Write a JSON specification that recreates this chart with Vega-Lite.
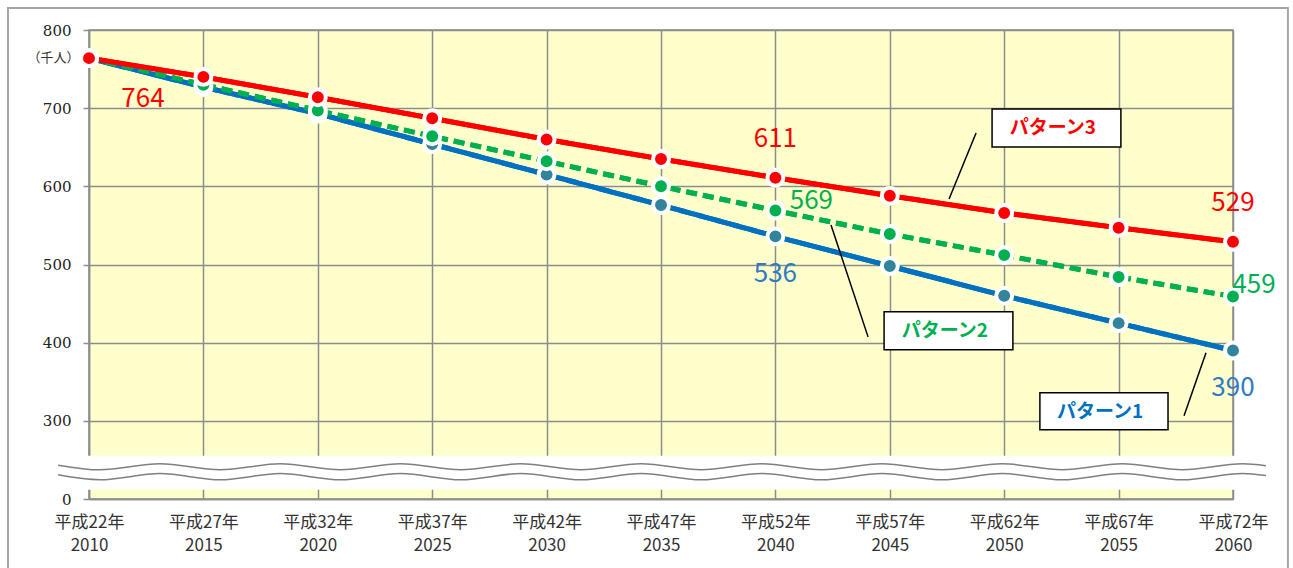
{
  "$schema": "https://vega.github.io/schema/vega-lite/v6.json",
  "width": 1144,
  "height": 469,
  "autosize": "none",
  "padding": {"left": 89, "top": 30, "right": 60, "bottom": 69},
  "background": "white",
  "config": {"view": {"fill": "#FFFFCC", "stroke": "#8C8C8C", "strokeWidth": 1.5}},
  "datasets": {
    "series": [
      {"series": "パターン1", "year": 2010, "value": 764},
      {"series": "パターン1", "year": 2015, "value": 727},
      {"series": "パターン1", "year": 2020, "value": 693},
      {"series": "パターン1", "year": 2025, "value": 654},
      {"series": "パターン1", "year": 2030, "value": 615},
      {"series": "パターン1", "year": 2035, "value": 576},
      {"series": "パターン1", "year": 2040, "value": 536},
      {"series": "パターン1", "year": 2045, "value": 498},
      {"series": "パターン1", "year": 2050, "value": 460},
      {"series": "パターン1", "year": 2055, "value": 425},
      {"series": "パターン1", "year": 2060, "value": 390},
      {"series": "パターン2", "year": 2010, "value": 764},
      {"series": "パターン2", "year": 2015, "value": 730},
      {"series": "パターン2", "year": 2020, "value": 697},
      {"series": "パターン2", "year": 2025, "value": 664},
      {"series": "パターン2", "year": 2030, "value": 632},
      {"series": "パターン2", "year": 2035, "value": 600},
      {"series": "パターン2", "year": 2040, "value": 569},
      {"series": "パターン2", "year": 2045, "value": 539},
      {"series": "パターン2", "year": 2050, "value": 512},
      {"series": "パターン2", "year": 2055, "value": 484},
      {"series": "パターン2", "year": 2060, "value": 459},
      {"series": "パターン3", "year": 2010, "value": 764},
      {"series": "パターン3", "year": 2015, "value": 740},
      {"series": "パターン3", "year": 2020, "value": 714},
      {"series": "パターン3", "year": 2025, "value": 687},
      {"series": "パターン3", "year": 2030, "value": 660},
      {"series": "パターン3", "year": 2035, "value": 635},
      {"series": "パターン3", "year": 2040, "value": 611},
      {"series": "パターン3", "year": 2045, "value": 588},
      {"series": "パターン3", "year": 2050, "value": 566},
      {"series": "パターン3", "year": 2055, "value": 547},
      {"series": "パターン3", "year": 2060, "value": 529}
    ],
    "boxes": [
      {"series": "パターン3", "x1": 2049.47, "x2": 2055.10, "y1": 699.0, "y2": 650.4, "tx": 2052.13, "ty": 674.7},
      {"series": "パターン2", "x1": 2044.75, "x2": 2050.38, "y1": 439.4, "y2": 390.8, "tx": 2047.41, "ty": 415.1},
      {"series": "パターン1", "x1": 2051.56, "x2": 2057.16, "y1": 335.8, "y2": 288.5, "tx": 2054.19, "ty": 311.5}
    ],
    "leaders": [
      {"x1": 2048.77, "y1": 668.3, "x2": 2047.59, "y2": 583.9},
      {"x1": 2042.43, "y1": 550.6, "x2": 2044.05, "y2": 407.4},
      {"x1": 2058.82, "y1": 387.0, "x2": 2057.86, "y2": 306.4}
    ],
    "frame": [
      {"x1": 2006.46, "x2": 2062.40, "y1": 828.1, "y2": 90}
    ],
    "band": [
      {"x1": 2008.65, "x2": 2061.44, "y1": 255.2, "y2": 211.8}
    ],
    "wave": [
      {"line": "u", "x": 2008.65, "y": 243.3},
      {"line": "u", "x": 2010.47, "y": 237.3},
      {"line": "u", "x": 2013.10, "y": 245.0},
      {"line": "u", "x": 2015.73, "y": 237.3},
      {"line": "u", "x": 2018.36, "y": 245.0},
      {"line": "u", "x": 2020.99, "y": 237.3},
      {"line": "u", "x": 2023.62, "y": 245.0},
      {"line": "u", "x": 2026.25, "y": 237.3},
      {"line": "u", "x": 2028.87, "y": 245.0},
      {"line": "u", "x": 2031.50, "y": 237.3},
      {"line": "u", "x": 2034.13, "y": 245.0},
      {"line": "u", "x": 2036.76, "y": 237.3},
      {"line": "u", "x": 2039.39, "y": 245.0},
      {"line": "u", "x": 2042.02, "y": 237.3},
      {"line": "u", "x": 2044.65, "y": 245.0},
      {"line": "u", "x": 2047.28, "y": 237.3},
      {"line": "u", "x": 2049.91, "y": 245.0},
      {"line": "u", "x": 2052.54, "y": 237.3},
      {"line": "u", "x": 2055.16, "y": 245.0},
      {"line": "u", "x": 2057.79, "y": 237.3},
      {"line": "u", "x": 2060.42, "y": 245.0},
      {"line": "u", "x": 2061.44, "y": 242.5},
      {"line": "l", "x": 2008.65, "y": 230.9},
      {"line": "l", "x": 2010.47, "y": 224.6},
      {"line": "l", "x": 2013.10, "y": 232.6},
      {"line": "l", "x": 2015.73, "y": 224.6},
      {"line": "l", "x": 2018.36, "y": 232.6},
      {"line": "l", "x": 2020.99, "y": 224.6},
      {"line": "l", "x": 2023.62, "y": 232.6},
      {"line": "l", "x": 2026.25, "y": 224.6},
      {"line": "l", "x": 2028.87, "y": 232.6},
      {"line": "l", "x": 2031.50, "y": 224.6},
      {"line": "l", "x": 2034.13, "y": 232.6},
      {"line": "l", "x": 2036.76, "y": 224.6},
      {"line": "l", "x": 2039.39, "y": 232.6},
      {"line": "l", "x": 2042.02, "y": 224.6},
      {"line": "l", "x": 2044.65, "y": 232.6},
      {"line": "l", "x": 2047.28, "y": 224.6},
      {"line": "l", "x": 2049.91, "y": 232.6},
      {"line": "l", "x": 2052.54, "y": 224.6},
      {"line": "l", "x": 2055.16, "y": 232.6},
      {"line": "l", "x": 2057.79, "y": 224.6},
      {"line": "l", "x": 2060.42, "y": 232.6},
      {"line": "l", "x": 2061.44, "y": 230.0}
    ]
  },
  "layer": [
    {
      "data": {"name": "series"},
      "mark": {"type": "line", "strokeWidth": 5},
      "encoding": {
        "x": {
          "field": "year", "type": "quantitative",
          "scale": {"domain": [2010, 2060], "nice": false, "zero": false},
          "axis": {
            "values": [2010, 2015, 2020, 2025, 2030, 2035, 2040, 2045, 2050, 2055, 2060],
            "labelExpr": "['平成' + (datum.value - 1988) + '年', '' + datum.value]",
            "title": null,
            "grid": true, "gridColor": "#8C8C8C", "gridWidth": 1.5,
            "ticks": false,
            "domainColor": "#8C8C8C", "domainWidth": 1.5,
            "labelFont": "Noto Sans CJK JP", "labelFontSize": 17, "labelColor": "#333333",
            "labelLineHeight": 23, "labelPadding": 15, "labelFlush": false, "labelOverlap": false
          }
        },
        "y": {
          "field": "value", "type": "quantitative",
          "scale": {"domain": [200, 800], "nice": false, "zero": false},
          "axis": {
            "values": [200, 300, 400, 500, 600, 700, 800],
            "labelExpr": "datum.value == 200 ? '0' : '' + datum.value",
            "title": "（千人）",
            "titleAngle": 0, "titleX": -36, "titleY": 27,
            "titleAlign": "center", "titleBaseline": "middle",
            "titleFont": "Noto Sans CJK JP", "titleFontSize": 13, "titleFontWeight": "normal", "titleColor": "#333333",
            "grid": true, "gridColor": "#8C8C8C", "gridWidth": 1.5,
            "tickSize": 6, "tickColor": "#8C8C8C", "tickWidth": 1.5,
            "domainColor": "#8C8C8C", "domainWidth": 1.5,
            "labelPadding": 12, "labelFont": "DejaVu Serif", "labelFontSize": 15, "labelColor": "#222222"
          }
        },
        "stroke": {
          "field": "series", "type": "nominal",
          "scale": {"domain": ["パターン1", "パターン2", "パターン3"], "range": ["#0070C0", "#00B050", "#FF0000"]},
          "legend": null
        },
        "strokeDash": {
          "field": "series", "type": "nominal",
          "scale": {"domain": ["パターン1", "パターン2", "パターン3"], "range": [[1, 0], [11, 6], [1, 0]]},
          "legend": null
        }
      }
    },
    {
      "data": {"name": "frame"},
      "mark": {"type": "rect", "fillOpacity": 0, "stroke": "#A6A6A6", "strokeWidth": 2},
      "encoding": {
        "x": {"field": "x1", "type": "quantitative"},
        "x2": {"field": "x2"},
        "y": {"field": "y1", "type": "quantitative"},
        "y2": {"field": "y2"}
      }
    },
    {
      "data": {"name": "band"},
      "mark": {"type": "rect", "fill": "white", "strokeWidth": 0},
      "encoding": {
        "x": {"field": "x1", "type": "quantitative"},
        "x2": {"field": "x2"},
        "y": {"field": "y1", "type": "quantitative"},
        "y2": {"field": "y2"}
      }
    },
    {
      "data": {"name": "wave"},
      "mark": {"type": "line", "interpolate": "monotone", "color": "#7F7F7F", "strokeWidth": 1.5},
      "encoding": {
        "x": {"field": "x", "type": "quantitative"},
        "y": {"field": "y", "type": "quantitative"},
        "detail": {"field": "line", "type": "nominal"}
      }
    },
    {
      "data": {"name": "series"},
      "mark": {"type": "line", "strokeWidth": 5},
      "encoding": {
        "x": {"field": "year", "type": "quantitative"},
        "y": {"field": "value", "type": "quantitative"},
        "stroke": {"field": "series", "type": "nominal", "legend": null},
        "strokeDash": {"field": "series", "type": "nominal", "legend": null}
      }
    },
    {
      "data": {"name": "series"},
      "mark": {"type": "circle", "size": 254, "stroke": "white", "strokeWidth": 4, "opacity": 1},
      "encoding": {
        "x": {"field": "year", "type": "quantitative"},
        "y": {"field": "value", "type": "quantitative"},
        "fill": {
          "field": "series", "type": "nominal",
          "scale": {"domain": ["パターン1", "パターン2", "パターン3"], "range": ["#31849B", "#00B050", "#FF0000"]},
          "legend": null
        }
      }
    },
    {
      "data": {"name": "series"},
      "transform": [{"filter": "datum.series == 'パターン3' && datum.year == 2010"}],
      "mark": {"type": "text", "font": "Noto Sans CJK JP", "fontSize": 26, "color": "#FF0000", "dx": 54, "dy": 41, "baseline": "middle", "align": "center"},
      "encoding": {
        "x": {"field": "year", "type": "quantitative"},
        "y": {"field": "value", "type": "quantitative"},
        "text": {"field": "value", "type": "quantitative"}
      }
    },
    {
      "data": {"name": "series"},
      "transform": [{"filter": "datum.series == 'パターン3' && (datum.year == 2040 || datum.year == 2060)"}],
      "mark": {"type": "text", "font": "Noto Sans CJK JP", "fontSize": 26, "color": "#FF0000", "dy": -39, "baseline": "middle", "align": "center"},
      "encoding": {
        "x": {"field": "year", "type": "quantitative"},
        "y": {"field": "value", "type": "quantitative"},
        "text": {"field": "value", "type": "quantitative"}
      }
    },
    {
      "data": {"name": "series"},
      "transform": [{"filter": "datum.series == 'パターン2' && datum.year == 2040"}],
      "mark": {"type": "text", "font": "Noto Sans CJK JP", "fontSize": 26, "color": "#00B050", "dx": 36, "dy": -10, "baseline": "middle", "align": "center"},
      "encoding": {
        "x": {"field": "year", "type": "quantitative"},
        "y": {"field": "value", "type": "quantitative"},
        "text": {"field": "value", "type": "quantitative"}
      }
    },
    {
      "data": {"name": "series"},
      "transform": [{"filter": "datum.series == 'パターン2' && datum.year == 2060"}],
      "mark": {"type": "text", "font": "Noto Sans CJK JP", "fontSize": 26, "color": "#00B050", "dx": 21, "dy": -12, "baseline": "middle", "align": "center"},
      "encoding": {
        "x": {"field": "year", "type": "quantitative"},
        "y": {"field": "value", "type": "quantitative"},
        "text": {"field": "value", "type": "quantitative"}
      }
    },
    {
      "data": {"name": "series"},
      "transform": [{"filter": "datum.series == 'パターン1' && (datum.year == 2040 || datum.year == 2060)"}],
      "mark": {"type": "text", "font": "Noto Sans CJK JP", "fontSize": 26, "color": "#2E7BC4", "dy": 38, "baseline": "middle", "align": "center"},
      "encoding": {
        "x": {"field": "year", "type": "quantitative"},
        "y": {"field": "value", "type": "quantitative"},
        "text": {"field": "value", "type": "quantitative"}
      }
    },
    {
      "data": {"name": "leaders"},
      "mark": {"type": "rule", "color": "black", "strokeWidth": 1.5},
      "encoding": {
        "x": {"field": "x1", "type": "quantitative"},
        "y": {"field": "y1", "type": "quantitative"},
        "x2": {"field": "x2"},
        "y2": {"field": "y2"}
      }
    },
    {
      "data": {"name": "boxes"},
      "mark": {"type": "rect", "fill": "white", "stroke": "black", "strokeWidth": 1.5},
      "encoding": {
        "x": {"field": "x1", "type": "quantitative"},
        "x2": {"field": "x2"},
        "y": {"field": "y1", "type": "quantitative"},
        "y2": {"field": "y2"}
      }
    },
    {
      "data": {"name": "boxes"},
      "mark": {"type": "text", "font": "Noto Sans CJK JP", "fontSize": 19, "fontWeight": "bold", "baseline": "middle", "align": "center"},
      "encoding": {
        "x": {"field": "tx", "type": "quantitative"},
        "y": {"field": "ty", "type": "quantitative"},
        "text": {"field": "series", "type": "nominal"},
        "color": {
          "field": "series", "type": "nominal",
          "scale": {"domain": ["パターン1", "パターン2", "パターン3"], "range": ["#0070C0", "#00B050", "#FF0000"]},
          "legend": null
        }
      }
    }
  ]
}
